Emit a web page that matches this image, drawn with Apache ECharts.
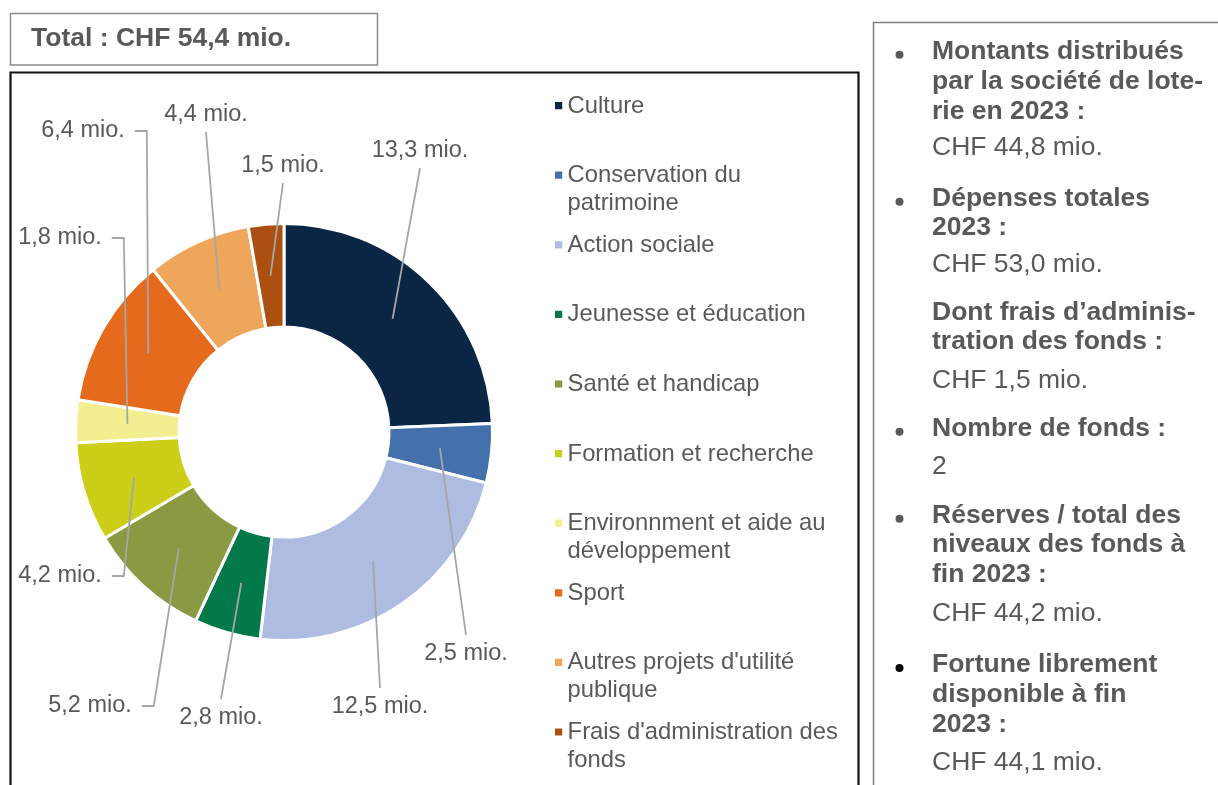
<!DOCTYPE html>
<html>
<head>
<meta charset="utf-8">
<title>Répartition des fonds 2023</title>
<script src="https://cdn.jsdelivr.net/npm/echarts@6/dist/echarts.min.js"></script>
<style>
html, body { margin: 0; padding: 0; background: #fff; }
#chart { width: 1218px; height: 785px; }
</style>
</head>
<body>
<div id="chart"></div>
<script>
// Montants par domaine (mio. CHF)
var categories = ['Culture', 'Conservation du\npatrimoine', 'Action sociale', 'Jeunesse et éducation',
    'Santé et handicap', 'Formation et recherche', 'Environnment et aide au\ndéveloppement', 'Sport',
    "Autres projets d'utilité\npublique", "Frais d'administration des\nfonds"];
var amounts = [13.3, 2.5, 12.5, 2.8, 5.2, 4.2, 1.8, 6.4, 4.4, 1.5];
var totalText = 'Total : CHF 54,4 mio.';

// Encadré de droite : [texte, type] (b = puce + gras, h = gras, v = valeur)
var panelLines = [
    ['Montants distribués', 'b'], ['par la société de lote-', 'h'], ['rie en 2023 :', 'h'], ['CHF 44,8 mio.', 'v'],
    ['Dépenses totales', 'b'], ['2023 :', 'h'], ['CHF 53,0 mio.', 'v'],
    ['Dont frais d\u2019adminis-', 'h'], ['tration des fonds :', 'h'], ['CHF 1,5 mio.', 'v'],
    ['Nombre de fonds :', 'b'], ['2', 'v'],
    ['Réserves / total des', 'b'], ['niveaux des fonds à', 'h'], ['fin 2023 :', 'h'], ['CHF 44,2 mio.', 'v'],
    ['Fortune librement', 'b'], ['disponible à fin', 'h'], ['2023 :', 'h'], ['CHF 44,1 mio.', 'v']
];

var colors = ['#0B2645', '#4470AB', '#ADBCE0', '#037848', '#8A9A43', '#CDCE17', '#F3EE90', '#E56A1C', '#EEA65A', '#AC5012'];
var font = "'Liberation Sans', Arial, sans-serif";
var grey = '#595959';

// position des étiquettes (x, y, côté du trait)
var labelSpots = [[420, 151, 'b'], [466, 654, 't'], [380, 707, 't'], [221, 718, 't'], [90, 706, 'r'],
    [60, 576, 'r'], [60, 238, 'r'], [83, 131, 'r'], [206, 115, 'b'], [283, 166, 'b']];
var panelY = [51.7, 81.7, 112, 147.5, 198.7, 228, 265, 313, 342, 380.5, 428.7, 466.7,
    515.7, 545, 575, 614, 665, 695, 725, 762.5];

var myChart = echarts.init(document.getElementById('chart'));

var lineH = 27.8;
var tallIcon = 'path://M0,0L7,0L7,7L0,7Z M0,' + (lineH + 7) + 'L0.01,' + (lineH + 7);

var graphics = [
    { type: 'rect', shape: { x: 10.5, y: 13.5, width: 367, height: 51.5 },
      style: { fill: '#fff', stroke: '#8C8C8C', lineWidth: 1.5 } },
    { type: 'text', x: 31, y: 39,
      style: { text: totalText, font: 'bold 26.5px ' + font, fill: grey, verticalAlign: 'middle' } },
    { type: 'rect', shape: { x: 10.5, y: 72.5, width: 848, height: 760 },
      style: { fill: 'none', stroke: '#111', lineWidth: 2.2 } },
    { type: 'rect', shape: { x: 873.5, y: 22.5, width: 400, height: 800 },
      style: { fill: 'none', stroke: '#7F7F7F', lineWidth: 1.5 } }
];
var lastBullet = 0;
panelLines.forEach(function (l, i) { if (l[1] === 'b') lastBullet = i; });
panelLines.forEach(function (l, i) {
    graphics.push({
        type: 'text', x: 932, y: panelY[i],
        style: { text: l[0], font: (l[1] === 'v' ? '' : 'bold ') + '26.5px ' + font, fill: grey, verticalAlign: 'middle' }
    });
    if (l[1] === 'b') {
        graphics.push({
            type: 'circle', shape: { cx: 899.5, cy: panelY[i] + 3, r: 4 },
            style: { fill: i === lastBullet ? '#000' : grey }
        });
    }
});

var pieData = categories.map(function (c, i) {
    return { name: c, value: amounts[i] };
});

myChart.setOption({
    color: colors,
    animation: false,
    graphic: graphics,
    legend: {
        orient: 'vertical',
        left: 555,
        top: 106 - lineH / 2,
        padding: 0,
        itemWidth: 8,
        itemHeight: lineH + 8,
        itemGap: 69.6 - 2 * lineH,
        selectedMode: false,
        icon: tallIcon,
        itemStyle: { borderWidth: 0 },
        textStyle: { fontSize: 23.8, lineHeight: lineH, color: grey, fontFamily: font },
        formatter: function (name) {
            return name.indexOf('\n') < 0 ? name + '\n ' : name;
        },
        data: categories
    },
    series: [{
        // anneau
        type: 'pie',
        center: [284, 432],
        radius: [105, 208.5],
        startAngle: 90,
        clockwise: true,
        silent: true,
        itemStyle: { borderColor: '#fff', borderWidth: 3 },
        label: { show: false },
        labelLine: { show: false },
        data: pieData
    }, {
        // étiquettes et traits par-dessus l'anneau
        type: 'pie',
        z: 5,
        center: [284, 432],
        radius: [105, 208.5],
        startAngle: 90,
        clockwise: true,
        silent: true,
        avoidLabelOverlap: false,
        itemStyle: { color: 'rgba(0,0,0,0)', borderWidth: 0 },
        label: {
            show: true,
            position: 'outside',
            fontSize: 23.5,
            fontFamily: font,
            color: grey,
            formatter: function (p) {
                return p.value.toFixed(1).replace('.', ',') + ' mio.';
            }
        },
        labelLine: { show: true, lineStyle: { color: '#A6A6A6', width: 1.8 } },
        labelLayout: function (p) {
            var i = p.dataIndex;
            var lay = myChart.getModel().getSeriesByIndex(1).getData().getItemLayout(i);
            var mid = (lay.startAngle + lay.endAngle) / 2;
            var rm = (lay.r + lay.r0) / 2;
            var sx = lay.cx + rm * Math.cos(mid);
            var sy = lay.cy + rm * Math.sin(mid);
            var s = labelSpots[i];
            var pts;
            if (s[2] === 'r') {
                var right = s[0] + p.labelRect.width / 2;
                pts = [[sx, sy], [right + 22, s[1]], [right + 10, s[1]]];
            } else {
                var ey = s[2] === 'b' ? s[1] + 17 : s[1] - 19;
                pts = [[sx, sy], [s[0], ey], [s[0], ey]];
            }
            return { x: s[0], y: s[1], align: 'center', verticalAlign: 'middle', labelLinePoints: pts };
        },
        data: pieData
    }]
});
</script>
</body>
</html>
